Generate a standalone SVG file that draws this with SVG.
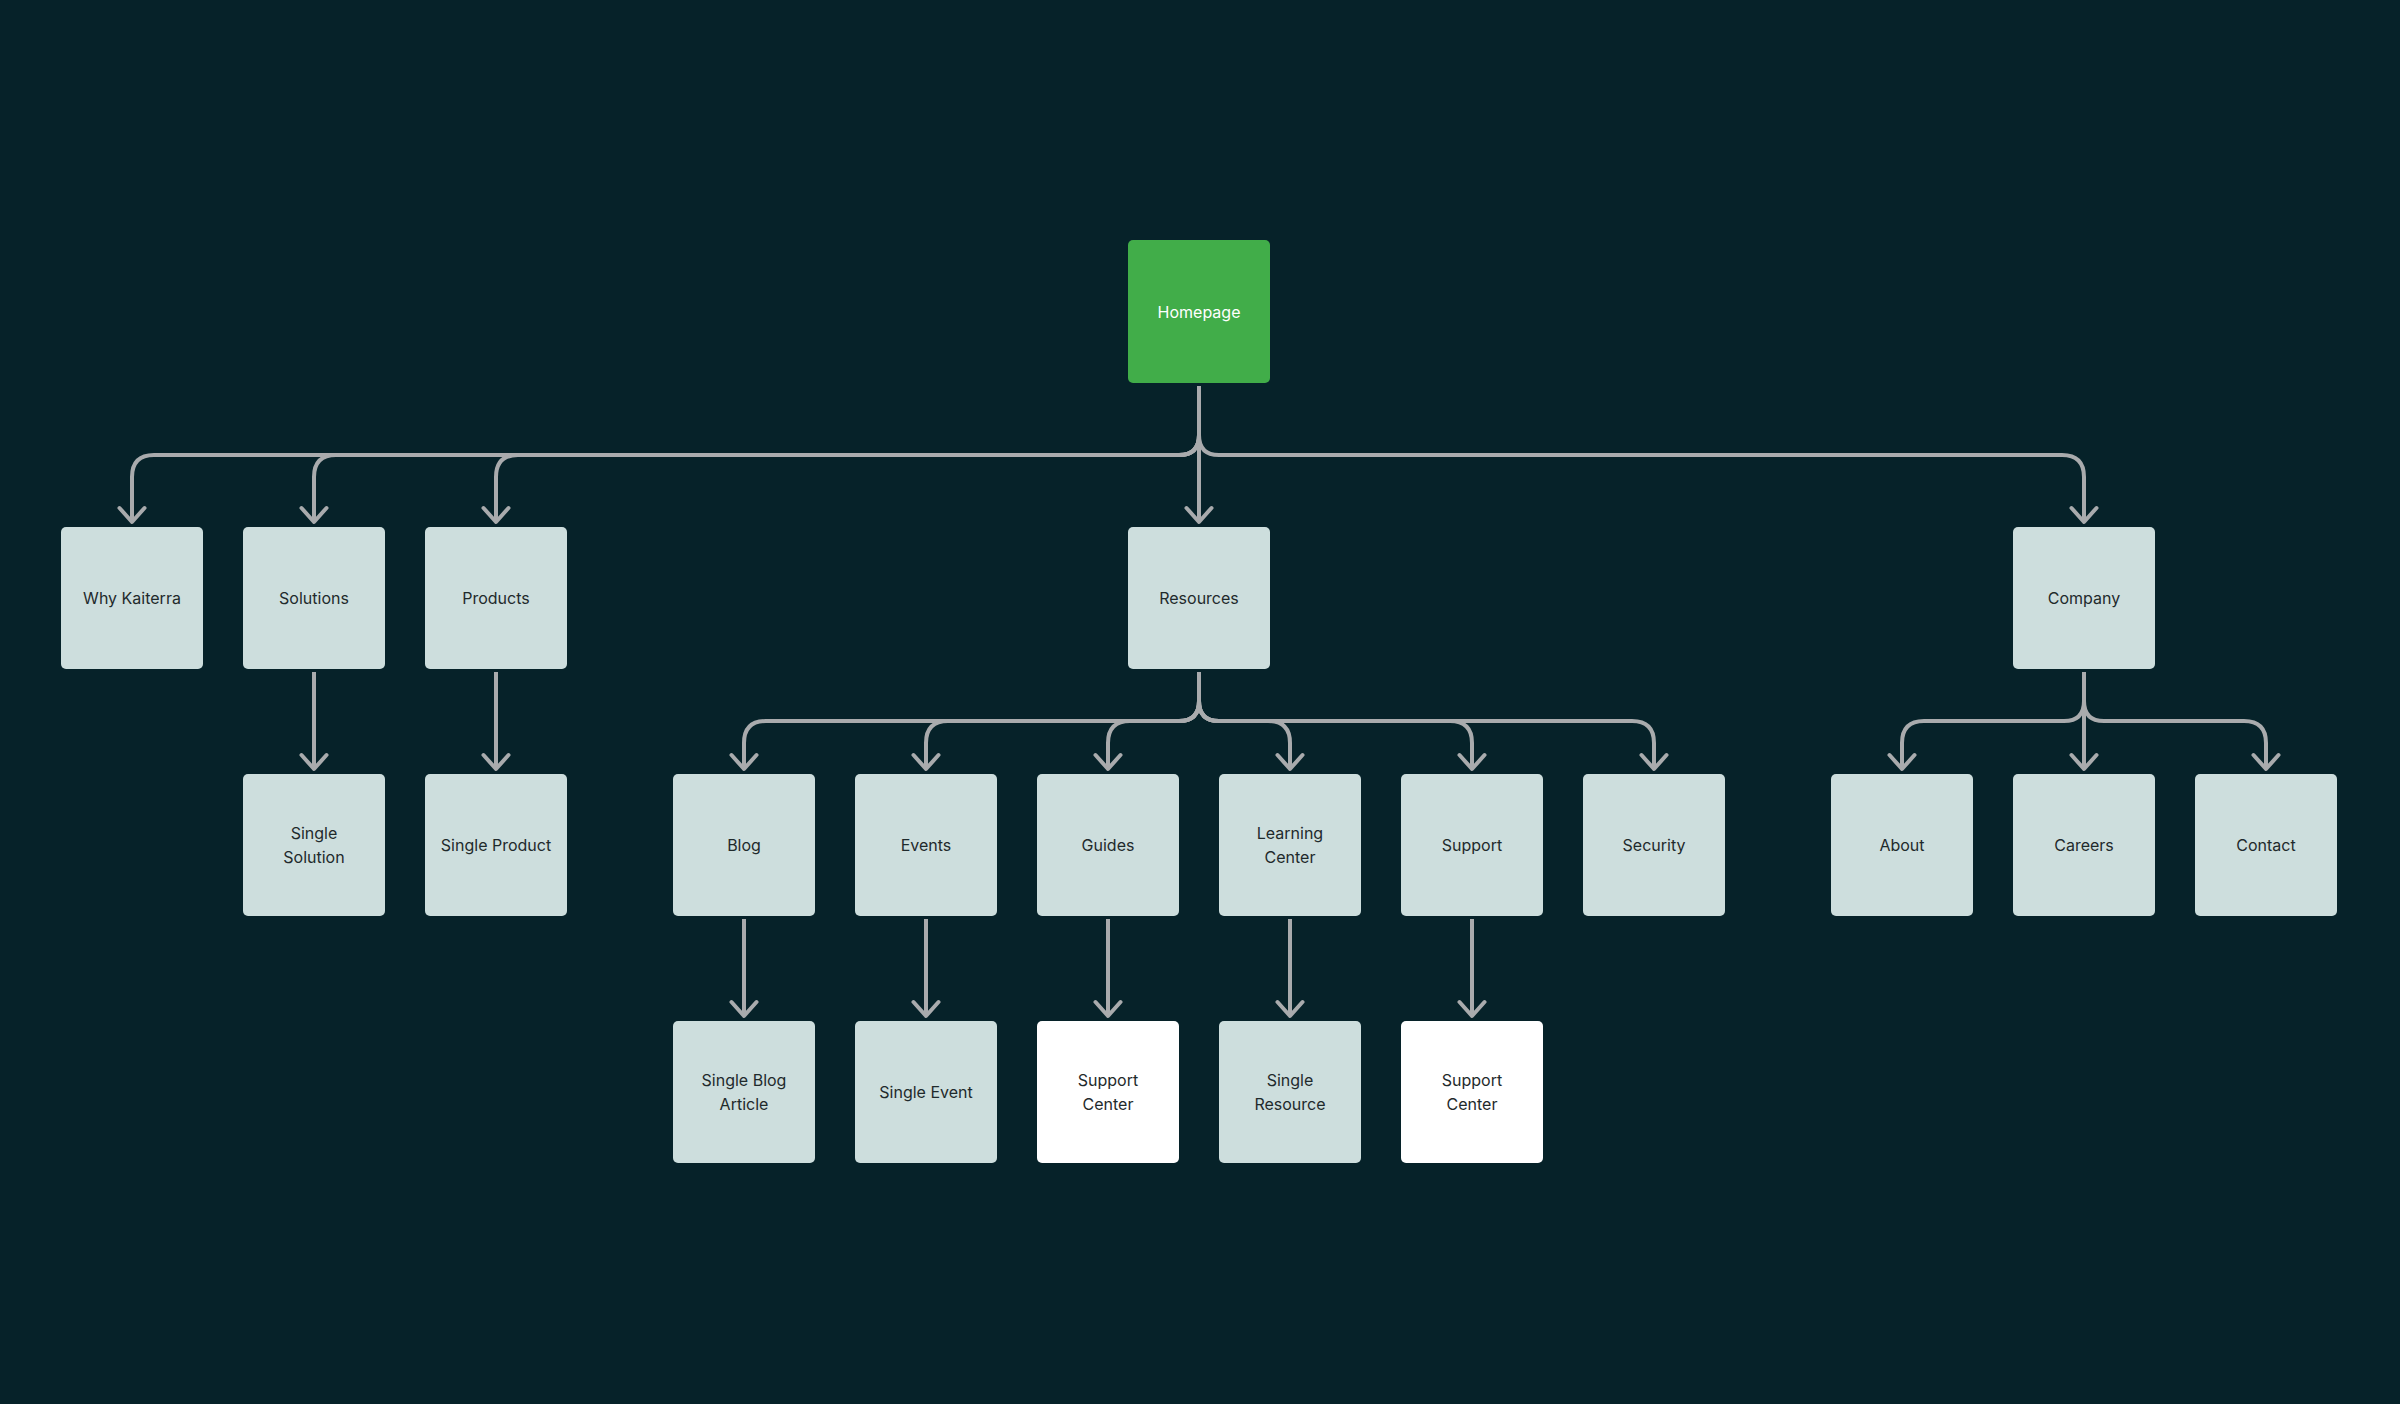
<svg xmlns="http://www.w3.org/2000/svg" width="2400" height="1404" viewBox="0 0 2400 1404">
<style>
.bg{fill:#062229}
.n rect{fill:#cddedd;rx:5px}
.n.w rect{fill:#ffffff}
.n.g rect{fill:#41ad49}
.n text{font-family:Inter,"Liberation Sans",sans-serif;font-size:16px;fill:#1f2a2c;text-anchor:middle}
.n.g text{fill:#ffffff}
.c path{fill:none;stroke:#a9abad;stroke-width:4;marker-end:url(#ah)}
</style>
<defs>
<marker id="ah" markerUnits="userSpaceOnUse" markerWidth="40" markerHeight="40" viewBox="-20 -20 40 40" refX="0" refY="0" orient="auto">
<path d="M-14,-12.5 L0,0 L-14,12.5" fill="none" stroke="#a9abad" stroke-width="4" stroke-linecap="round" stroke-linejoin="round"/>
</marker>
</defs>
<rect class="bg" x="0" y="0" width="2400" height="1404"/>

<g id="connectors" class="c">
<!-- Homepage -->
<path d="M1199,386 V435 Q1199,455 1179,455 H154 Q132,455 132,477 V522"/>
<path d="M1199,386 V435 Q1199,455 1179,455 H336 Q314,455 314,477 V522"/>
<path d="M1199,386 V435 Q1199,455 1179,455 H518 Q496,455 496,477 V522"/>
<path d="M1199,386 V522"/>
<path d="M1199,386 V435 Q1199,455 1219,455 H2062 Q2084,455 2084,477 V522"/>
<!-- Resources -->
<path d="M1199,672 V701 Q1199,721 1179,721 H766 Q744,721 744,743 V769"/>
<path d="M1199,672 V701 Q1199,721 1179,721 H948 Q926,721 926,743 V769"/>
<path d="M1199,672 V701 Q1199,721 1179,721 H1130 Q1108,721 1108,743 V769"/>
<path d="M1199,672 V701 Q1199,721 1219,721 H1268 Q1290,721 1290,743 V769"/>
<path d="M1199,672 V701 Q1199,721 1219,721 H1450 Q1472,721 1472,743 V769"/>
<path d="M1199,672 V701 Q1199,721 1219,721 H1632 Q1654,721 1654,743 V769"/>
<!-- Company -->
<path d="M2084,672 V701 Q2084,721 2064,721 H1924 Q1902,721 1902,743 V769"/>
<path d="M2084,672 V769"/>
<path d="M2084,672 V701 Q2084,721 2104,721 H2244 Q2266,721 2266,743 V769"/>
<!-- Straight -->
<path d="M314,672 V769"/>
<path d="M496,672 V769"/>
<path d="M744,919 V1016"/>
<path d="M926,919 V1016"/>
<path d="M1108,919 V1016"/>
<path d="M1290,919 V1016"/>
<path d="M1472,919 V1016"/>
</g>

<g id="homepage" class="n g"><rect x="1128" y="240" width="142" height="143"/><text x="1199" y="318">Homepage</text></g>

<g id="why-kaiterra" class="n"><rect x="61" y="527" width="142" height="142"/><text x="132" y="604">Why Kaiterra</text></g>
<g id="solutions" class="n"><rect x="243" y="527" width="142" height="142"/><text x="314" y="604">Solutions</text></g>
<g id="products" class="n"><rect x="425" y="527" width="142" height="142"/><text x="496" y="604">Products</text></g>
<g id="resources" class="n"><rect x="1128" y="527" width="142" height="142"/><text x="1199" y="604">Resources</text></g>
<g id="company" class="n"><rect x="2013" y="527" width="142" height="142"/><text x="2084" y="604">Company</text></g>

<g id="single-solution" class="n"><rect x="243" y="774" width="142" height="142"/><text x="314" y="839">Single</text><text x="314" y="863">Solution</text></g>
<g id="single-product" class="n"><rect x="425" y="774" width="142" height="142"/><text x="496" y="851">Single Product</text></g>
<g id="blog" class="n"><rect x="673" y="774" width="142" height="142"/><text x="744" y="851">Blog</text></g>
<g id="events" class="n"><rect x="855" y="774" width="142" height="142"/><text x="926" y="851">Events</text></g>
<g id="guides" class="n"><rect x="1037" y="774" width="142" height="142"/><text x="1108" y="851">Guides</text></g>
<g id="learning-center" class="n"><rect x="1219" y="774" width="142" height="142"/><text x="1290" y="839">Learning</text><text x="1290" y="863">Center</text></g>
<g id="support" class="n"><rect x="1401" y="774" width="142" height="142"/><text x="1472" y="851">Support</text></g>
<g id="security" class="n"><rect x="1583" y="774" width="142" height="142"/><text x="1654" y="851">Security</text></g>
<g id="about" class="n"><rect x="1831" y="774" width="142" height="142"/><text x="1902" y="851">About</text></g>
<g id="careers" class="n"><rect x="2013" y="774" width="142" height="142"/><text x="2084" y="851">Careers</text></g>
<g id="contact" class="n"><rect x="2195" y="774" width="142" height="142"/><text x="2266" y="851">Contact</text></g>

<g id="single-blog-article" class="n"><rect x="673" y="1021" width="142" height="142"/><text x="744" y="1086">Single Blog</text><text x="744" y="1110">Article</text></g>
<g id="single-event" class="n"><rect x="855" y="1021" width="142" height="142"/><text x="926" y="1098">Single Event</text></g>
<g id="support-center-1" class="n w"><rect x="1037" y="1021" width="142" height="142"/><text x="1108" y="1086">Support</text><text x="1108" y="1110">Center</text></g>
<g id="single-resource" class="n"><rect x="1219" y="1021" width="142" height="142"/><text x="1290" y="1086">Single</text><text x="1290" y="1110">Resource</text></g>
<g id="support-center-2" class="n w"><rect x="1401" y="1021" width="142" height="142"/><text x="1472" y="1086">Support</text><text x="1472" y="1110">Center</text></g>
</svg>
